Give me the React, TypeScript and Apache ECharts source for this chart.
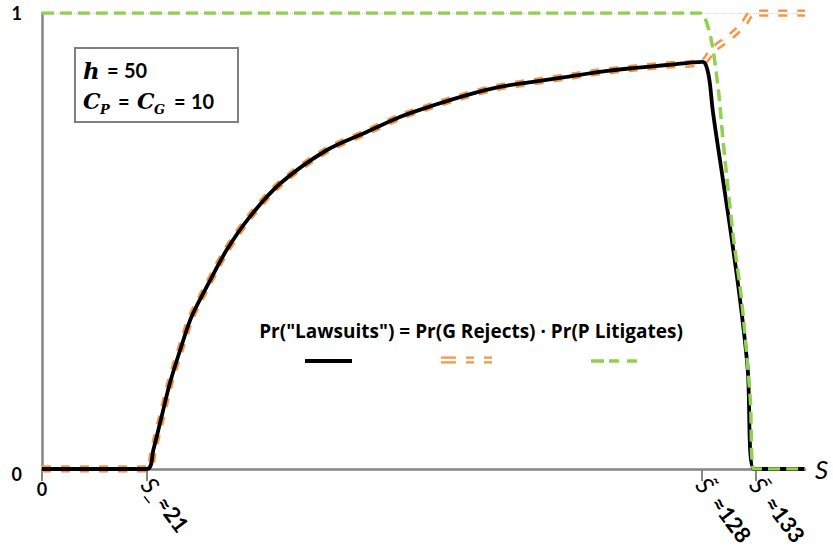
import React, { useEffect, useRef } from "react";
import * as echarts from "echarts";

// x positions (axis units), y = probability
const lawsuitsS = [0, 20.4, 21.6, 23.2, 24.8, 26.8, 29.0, 32.3, 35.8, 40.3, 46.2, 55.2, 63.0, 69.4, 75.8, 82.4, 88.8, 95.2, 101.8, 108.2, 114.6, 121.2, 128.2, 128.9, 129.5, 130.1, 131.5, 133.4, 135.4, 136.9, 138.1, 148];
const lawsuitsPr = [0, 0, 0.042, 0.115, 0.188, 0.261, 0.334, 0.407, 0.48, 0.553, 0.626, 0.699, 0.739, 0.772, 0.797, 0.82, 0.838, 0.849, 0.86, 0.871, 0.879, 0.886, 0.893, 0.882, 0.85, 0.787, 0.678, 0.535, 0.371, 0.217, 0, 0];

const rejectsS = [0, 20.4, 21.6, 23.2, 24.8, 26.8, 29.0, 32.3, 35.8, 40.3, 46.2, 55.2, 63.0, 69.4, 75.8, 82.4, 88.8, 95.2, 101.8, 108.2, 114.6, 121.2, 128.2, 130.1, 133.4, 136.0, 137.9, 148];
const rejectsPr = [0, 0, 0.042, 0.115, 0.188, 0.261, 0.334, 0.407, 0.48, 0.553, 0.626, 0.699, 0.739, 0.772, 0.797, 0.82, 0.838, 0.849, 0.86, 0.871, 0.879, 0.886, 0.893, 0.919, 0.947, 0.974, 1, 1];

const litigatesS = [0, 127.6, 128.6, 129.9, 131.2, 132.1, 134.1, 135.7, 137.4, 138.1, 148];
const litigatesPr = [1, 1, 0.989, 0.936, 0.831, 0.721, 0.509, 0.371, 0.151, 0, 0];

const thresholdS = [20.4, 128, 138.4];
const thresholdLabels = ["≈21", "≈128", "≈133"];
const thresholdMarks = ["S\u0332", "S\u0303", "S\u0304"];
const yTickValues = [0, 1];

const legendFormula = 'Pr("Lawsuits") = Pr(G Rejects) · Pr(P Litigates)';

const pairs = (xs: number[], ys: number[]) => xs.map((x, i) => [x, ys[i]]);

const ORANGE = "#F79646";
const GREEN = "#92D050";
const GRAY = "#868686";

export default function App() {
  const ref = useRef<HTMLDivElement>(null);
  useEffect(() => {
    if (!ref.current) return;
    const chart = echarts.init(ref.current, null, { renderer: "svg" });
    const serif = "DejaVu Serif";
    const sans = "Lato";
    const t = (text: string, x: number, y: number, size: number, opts: any = {}) => ({
      type: "text",
      x,
      y,
      z: 100,
      style: {
        text,
        fill: "#000",
        fontSize: size,
        fontFamily: opts.family || sans,
        fontWeight: opts.weight || "bold",
        fontStyle: opts.style || "normal",
        align: opts.align || "left",
        verticalAlign: "middle",
      },
    });
    const option: any = {
      animation: false,
      backgroundColor: "#fff",
      grid: { left: 42, right: 28, top: 13, bottom: 87, containLabel: false, outerBoundsMode: "none" },
      xAxis: [
        {
          type: "value",
          min: 0,
          max: 148,
          position: "bottom",
          axisLine: { show: true, lineStyle: { color: GRAY, width: 2.5 } },
          axisTick: { show: true, customValues: [0, ...thresholdS], length: 12, lineStyle: { color: GRAY, width: 2 } },
          axisLabel: { customValues: [0], margin: 11, color: "#000", fontWeight: "bold", fontSize: 18, fontFamily: sans },
          splitLine: { show: false },
          name: "S",
          nameLocation: "end",
          nameGap: 10,
          nameTextStyle: { color: "#000", fontSize: 26, fontStyle: "italic", fontFamily: sans, verticalAlign: "middle" },
        },
        {
          type: "value",
          min: 0,
          max: 148,
          position: "bottom",
          axisLine: { show: false },
          axisTick: { show: false },
          splitLine: { show: false },
          axisLabel: {
            customValues: thresholdS,
            rotate: -53,
            margin: 11,
            fontSize: 22,
            color: "#000",
            fontFamily: sans,
            formatter: (v: number) => {
              const i = thresholdS.findIndex((s) => Math.abs(s - v) < 0.01);
              if (i < 0) return "";
              return `{s|${thresholdMarks[i]}}  {n|${thresholdLabels[i]}}`;
            },
            rich: {
              s: { fontSize: 24, fontStyle: "italic", fontFamily: sans, color: "#000" },
              n: { fontSize: 22, fontWeight: "bold", fontFamily: sans, color: "#000" },
            },
          },
        },
      ],
      yAxis: {
        type: "value",
        min: 0,
        max: 1,
        interval: 1,
        axisLine: { show: true, lineStyle: { color: GRAY, width: 2.5 } },
        axisTick: { show: false },
        axisLabel: {
          customValues: yTickValues,
          formatter: (v: number) => (v === 0 ? "{z|0}" : "{o|1}"),
          rich: {
            z: { color: "#000", fontWeight: "bold", fontSize: 18, fontFamily: sans, padding: [10, 0, 0, 0] },
            o: { color: "#000", fontWeight: "bold", fontSize: 18, fontFamily: sans },
          },
          margin: 20,
        },
        splitLine: { show: true, lineStyle: { color: "#d9d9d9", type: "dotted", width: 1 } },
      },
      series: [
        {
          name: "Pr(G Rejects)",
          type: "line",
          data: pairs(rejectsS, rejectsPr),
          symbol: "none",
          smooth: 0.3,
          z: 2,
          lineStyle: { color: ORANGE, width: 7.5, type: [9, 10] },
        },
        {
          name: "Pr(G Rejects) inner",
          type: "line",
          data: pairs(rejectsS, rejectsPr),
          symbol: "none",
          smooth: 0.3,
          z: 3,
          lineStyle: { color: "#fff", width: 2.5, type: [9, 10] },
        },
        {
          name: 'Pr("Lawsuits")',
          type: "line",
          data: pairs(lawsuitsS, lawsuitsPr),
          symbol: "none",
          smooth: 0.3,
          z: 4,
          lineStyle: { color: "#000", width: 3.8 },
        },
        {
          name: "Pr(P Litigates)",
          type: "line",
          data: pairs(litigatesS, litigatesPr),
          symbol: "none",
          smooth: 0.3,
          z: 5,
          lineStyle: { color: GREEN, width: 3.5, type: [12, 6] },
        },
      ],
      graphic: [
        {
          type: "rect",
          shape: { x: 75, y: 48, width: 163, height: 74 },
          style: { fill: "#fff", stroke: "#7f7f7f", lineWidth: 2 },
          z: 90,
        },
        t("h", 83, 70, 23, { family: serif, style: "italic" }),
        t("=", 107, 70, 20),
        t("50", 124, 70, 20),
        t("C", 83, 101, 22, { family: serif, style: "italic" }),
        t("P", 100, 109, 13, { family: serif, style: "italic" }),
        t("=", 118, 101, 20),
        t("C", 137, 101, 22, { family: serif, style: "italic" }),
        t("G", 154, 109, 13, { family: serif, style: "italic" }),
        t("=", 174, 101, 20),
        t("10", 191, 101, 20),
        t(legendFormula, 471, 331, 19, { align: "center", family: "Open Sans" }),
        {
          type: "line",
          shape: { x1: 305, y1: 361, x2: 352, y2: 361 },
          style: { stroke: "#000", lineWidth: 4 },
          z: 100,
        },
        {
          type: "line",
          shape: { x1: 441, y1: 360, x2: 494, y2: 360 },
          style: { stroke: ORANGE, lineWidth: 7, lineDash: [15, 10, 8, 10, 8, 10] },
          z: 100,
        },
        {
          type: "line",
          shape: { x1: 441, y1: 360, x2: 494, y2: 360 },
          style: { stroke: "#fff", lineWidth: 2.5 },
          z: 101,
        },
        {
          type: "line",
          shape: { x1: 591, y1: 361, x2: 637, y2: 361 },
          style: { stroke: GREEN, lineWidth: 3.5, lineDash: [13, 5, 10, 8, 10, 8] },
          z: 100,
        },
      ],
    };
    chart.setOption(option);
    return () => chart.dispose();
  }, []);
  return (
    <div
      ref={ref}
      style={{ position: "absolute", left: 0, top: 0, width: 833, height: 556, background: "#fff" }}
    />
  );
}
